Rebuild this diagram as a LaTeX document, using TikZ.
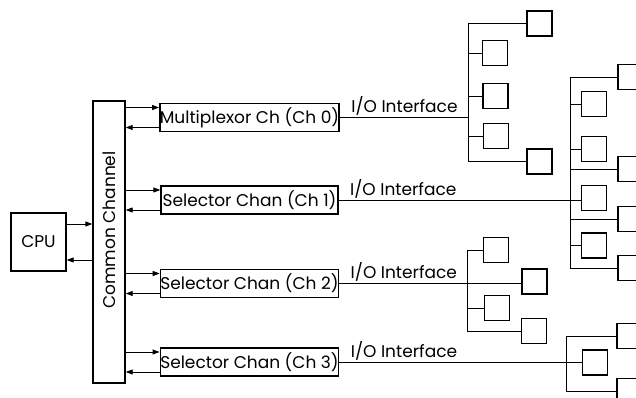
\documentclass[tikz,border=0pt]{standalone}
\usepackage{fontspec}
\setmainfont{Poppins}
\usetikzlibrary{arrows.meta, positioning}

\begin{document}
\begin{tikzpicture}[
    % Global Styles
    x=1pt, y=-1pt,
    font=\fontsize{17}{20}\selectfont,
    % Box styles
    unit/.style={draw, line width=1.4pt, inner sep=0pt},
    chan/.style={unit, minimum width=177pt, minimum height=28pt},
    dev/.style={unit, minimum size=25pt},
    % Lines and arrows
    wire/.style={line width=0.9pt},
    sig/.style={wire, -{Triangle[length=7pt,width=5pt]}},
    iolab/.style={anchor=base west, xshift=11pt, yshift=5pt, inner sep=0pt}
]

    \useasboundingbox (0,0) rectangle (636,398);

    % --- CPU & Common Channel ---
    \node[unit, minimum width=55pt, minimum height=58pt] (cpu) at (38.5,242) {CPU};
    \node[unit, minimum width=32pt, minimum height=282pt] (cc) at (109,242) {};
    \node[rotate=90] (cclab) at (109,230) {Common Channel};

    \draw[sig] ([yshift=18pt]cpu.east) -- ([yshift=18pt]cpu.east -| cc.west);
    \draw[sig] ([yshift=-18pt]cpu.east -| cc.west) -- ([yshift=-18pt]cpu.east);

    % --- Channels ---
    \node[chan] (ch0) at (249.5,117.5) {Multiplexor Ch (Ch 0)};
    \node[chan] (ch1) at (249.5,200) {Selector Chan (Ch 1)};
    \node[chan] (ch2) at (249.5,283.5) {Selector Chan (Ch 2)};
    \node[chan] (ch3) at (249.5,362) {Selector Chan (Ch 3)};

    \foreach \c in {ch0,ch1,ch2,ch3} {
        \draw[sig] ([yshift=10pt]\c.west -| cc.east) -- ([yshift=10pt]\c.west);
        \draw[sig] ([yshift=-10pt]\c.west) -- ([yshift=-10pt]\c.west -| cc.east);
    }

    % --- Tree 0: Multiplexor ---
    \coordinate (t0) at (468,0);
    \node[dev] (d01) at (539.5,23.5) {};
    \node[dev] (d02) at (495,53) {};
    \node[dev] (d03) at (495.5,96) {};
    \node[dev] (d04) at (496,136) {};
    \node[dev] (d05) at (539.5,161.5) {};
    \draw[wire] (d01.west) -- (d01.west -| t0) -- (d05.west -| t0) -- (d05.west);
    \foreach \d in {d02,d03,d04} \draw[wire] (\d.west) -- (\d.west -| t0);
    \draw[wire] (ch0.east) node[iolab] {I/O Interface} -- (ch0.east -| t0);

    % --- Tree 1: Selector Ch 1 ---
    \coordinate (t1) at (570,0);
    \node[dev] (d11) at (630.5,77) {};
    \node[dev] (d12) at (594,104) {};
    \node[dev] (d13) at (594,149) {};
    \node[dev] (d14) at (630.5,169) {};
    \node[dev] (d15) at (594,198) {};
    \node[dev] (d16) at (630.5,219) {};
    \node[dev] (d17) at (594,245.5) {};
    \node[dev] (d18) at (630.5,268) {};
    \draw[wire] (d11.west) -- (d11.west -| t1) -- (d18.west -| t1) -- (d18.west);
    \foreach \d in {d12,d13,d14,d16,d17} \draw[wire] (\d.west) -- (\d.west -| t1);
    \draw[wire] (ch1.east) node[iolab] {I/O Interface} -- (ch1.east -| d15.west);

    % --- Tree 2: Selector Ch 2 ---
    \coordinate (t2) at (467,0);
    \node[dev] (d21) at (496,250) {};
    \node[dev] (d22) at (534.5,281.5) {};
    \node[dev] (d23) at (497,308) {};
    \node[dev] (d24) at (534,331) {};
    \draw[wire] (d21.west) -- (d21.west -| t2) -- (d24.west -| t2) -- (d24.west);
    \draw[wire] (d23.west) -- (d23.west -| t2);
    \draw[wire] (ch2.east) node[iolab] {I/O Interface} -- (ch2.east -| d22.west);

    % --- Tree 3: Selector Ch 3 ---
    \coordinate (t3) at (566,0);
    \node[dev] (d31) at (629.5,336) {};
    \node[dev] (d32) at (595,362.5) {};
    \node[dev] (d33) at (629.5,391) {};
    \draw[wire] (d31.west) -- (d31.west -| t3) -- (d33.west -| t3) -- (d33.west);
    \draw[wire] (ch3.east) node[iolab] {I/O Interface} -- (ch3.east -| d32.west);

\end{tikzpicture}
\end{document}
